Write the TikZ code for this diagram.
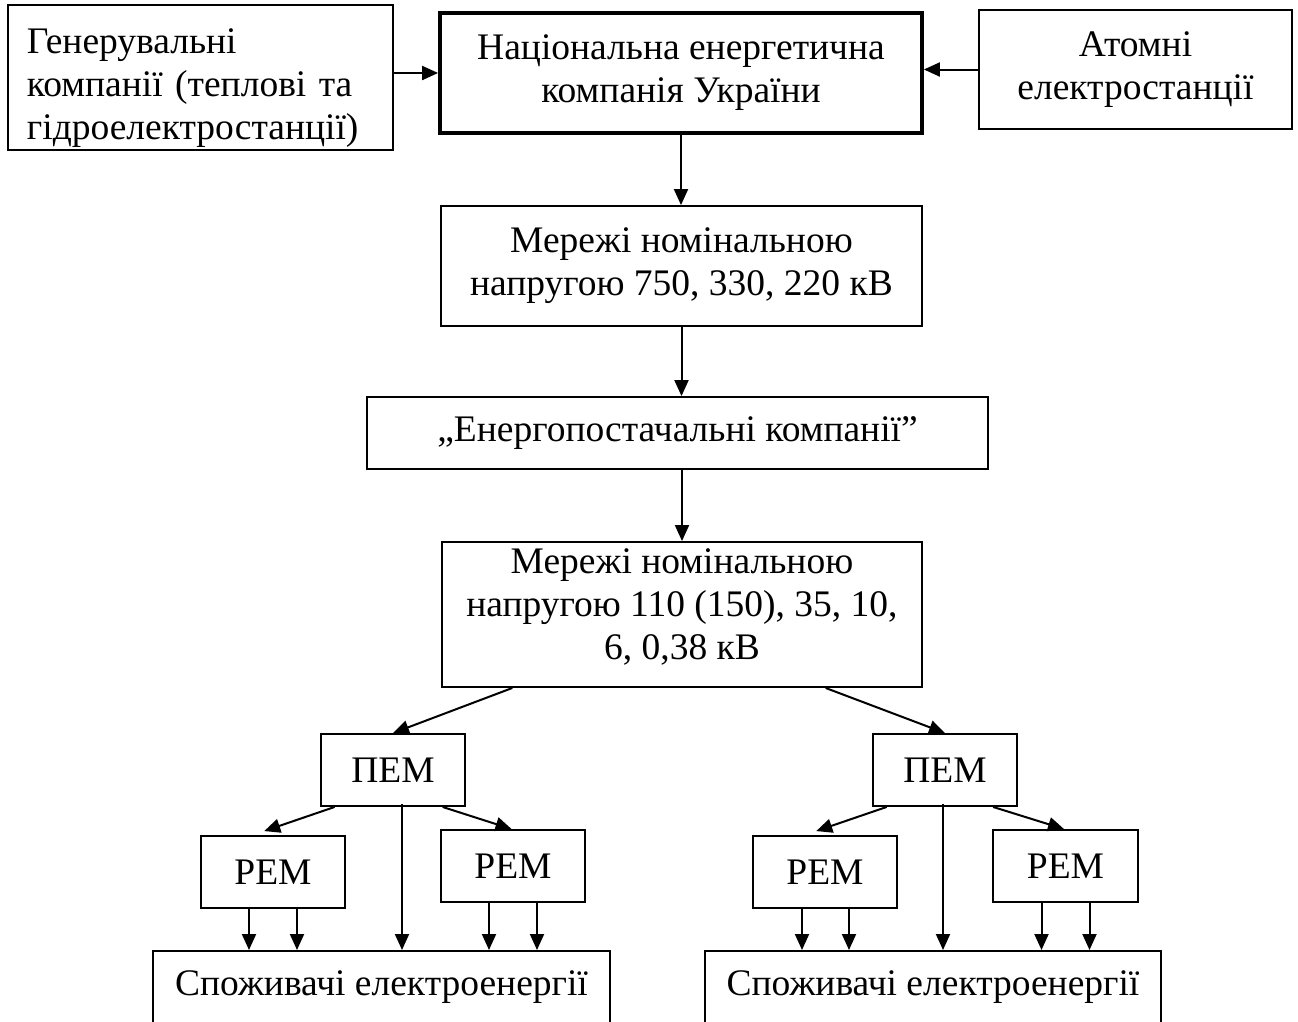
\documentclass[tikz,border=0pt]{standalone}
\usepackage{fontspec}
\setmainfont{Liberation Serif}
\usetikzlibrary{arrows.meta,calc}
\newcommand\diagfont{\fontsize{37.5}{43}\selectfont}
\begin{document}
\begin{tikzpicture}[x=1pt,y=-1pt,
  box/.style={draw,line width=1.9pt,inner sep=0pt,align=center,font=\diagfont},
  thickbox/.style={box,line width=3.8pt},
  conn/.style={line width=2pt,-{Triangle[length=16pt,width=14pt]}}
]
\useasboundingbox (0,0) rectangle (1298,1021);
\clip (0,0) rectangle (1298,1021);

% top row
\node[box,align=left,text width=347pt,inner xsep=19pt,minimum height=145pt] (gen) at (200.5,77.5)
  {\rule{0pt}{45pt}Генерувальні\\компанії (теплові та\\гідроелектростанції)};
\node[thickbox,minimum width=482pt,minimum height=120pt] (nek) at (681,73)
  {Національна енергетична\\компанія України};
\node[box,minimum width=313pt,minimum height=119pt] (atom) at (1135.5,69.5)
  {Атомні\\електростанції};

% middle column
\node[box,minimum width=481pt,minimum height=120pt] (net1) at (681.5,266)
  {Мережі номінальною\\напругою 750, 330, 220 кВ};
\node[box,minimum width=621pt,minimum height=72pt] (supply) at (677.5,433)
  {„Енергопостачальні компанії”};
\node[box,minimum width=480pt,minimum height=145pt] (net2) at (682,614.5)
  {Мережі номінальною\\напругою 110 (150), 35, 10,\\6, 0,38 кВ\rule[-20pt]{0pt}{0pt}};

% left branch
\node[box,minimum width=144pt,minimum height=72pt] (pemL) at (393,770) {ПЕМ};
\node[box,minimum width=144pt,minimum height=72pt] (remLL) at (273,872) {РЕМ};
\node[box,minimum width=144pt,minimum height=72pt] (remLR) at (513,866) {РЕМ};
\node[box,anchor=north,minimum width=457pt,text height=45pt,text depth=100pt] (consL) at (381.5,950)
  {Споживачі електроенергії};

% right branch
\node[box,minimum width=144pt,minimum height=72pt] (pemR) at (945,770) {ПЕМ};
\node[box,minimum width=144pt,minimum height=72pt] (remRL) at (825,872) {РЕМ};
\node[box,minimum width=145pt,minimum height=72pt] (remRR) at (1065.5,866) {РЕМ};
\node[box,anchor=north,minimum width=456pt,text height=45pt,text depth=100pt] (consR) at (933,950)
  {Споживачі електроенергії};

% connectors top
\draw[conn] (gen.east |- nek.west) -- (nek.west);
\draw[conn] (atom.west) -- (atom.west -| nek.east);
\draw[conn] (nek.south) -- (nek.south |- net1.north);
\draw[conn] (net1.south) -- (net1.south |- supply.north);
\draw[conn] (net2.north |- supply.south) -- (net2.north);

% net2 to PEMs
\draw[conn] ($(net2.south west)!0.148!(net2.south east)$) -- (pemL.north);
\draw[conn] ($(net2.south west)!0.798!(net2.south east)$) -- (pemR.north);

% helper coordinates
\coordinate (pLv) at ($(pemL.south)+(9,-3)$);
\coordinate (aLL1) at ($(remLL.south)+(-24,0)$);
\coordinate (aLL2) at ($(remLL.south)+(24,0)$);
\coordinate (aLR1) at ($(remLR.south)+(-24,0)$);
\coordinate (aLR2) at ($(remLR.south)+(24,0)$);
\coordinate (pRv) at ($(pemR.south)+(-2,-3)$);
\coordinate (aRL1) at ($(remRL.south)+(-23,0)$);
\coordinate (aRL2) at ($(remRL.south)+(24,0)$);
\coordinate (aRR1) at ($(remRR.south)+(-24,0)$);
\coordinate (aRR2) at ($(remRR.south)+(24,0)$);

% left PEM
\draw[conn] ($(pemL.south west)!0.1!(pemL.south east)$) -- ($(remLL.north west)!0.44!(remLL.north east)+(0,-4)$);
\draw[conn] ($(pemL.south west)!0.84!(pemL.south east)$) -- ($(remLR.north west)!0.49!(remLR.north east)$);
\draw[conn] (pLv) -- (pLv |- consL.north);
\draw[conn] (aLL1) -- (aLL1 |- consL.north);
\draw[conn] (aLL2) -- (aLL2 |- consL.north);
\draw[conn] (aLR1) -- (aLR1 |- consL.north);
\draw[conn] (aLR2) -- (aLR2 |- consL.north);

% right PEM
\draw[conn] ($(pemR.south west)!0.1!(pemR.south east)$) -- ($(remRL.north west)!0.44!(remRL.north east)+(0,-4)$);
\draw[conn] ($(pemR.south west)!0.83!(pemR.south east)$) -- ($(remRR.north west)!0.49!(remRR.north east)$);
\draw[conn] (pRv) -- (pRv |- consR.north);
\draw[conn] (aRL1) -- (aRL1 |- consR.north);
\draw[conn] (aRL2) -- (aRL2 |- consR.north);
\draw[conn] (aRR1) -- (aRR1 |- consR.north);
\draw[conn] (aRR2) -- (aRR2 |- consR.north);
\end{tikzpicture}
\end{document}
